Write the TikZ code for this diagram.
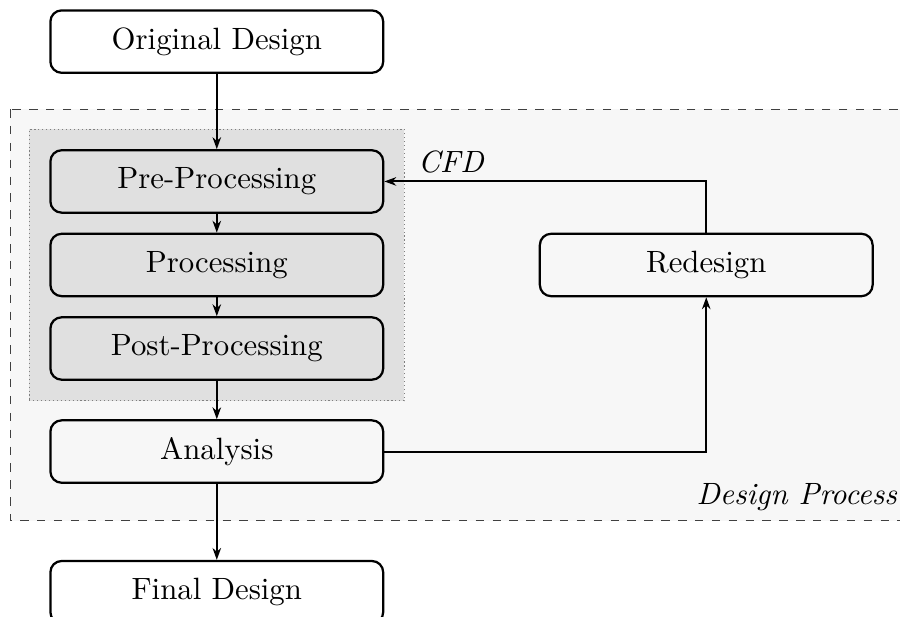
\documentclass[tikz,border=0pt,11pt]{standalone}
\usetikzlibrary{positioning,arrows.meta,fit,calc,backgrounds}

\begin{document}
\begin{tikzpicture}[
      node distance=0.236cm and 1.93cm,
      box/.style={draw, thick, rounded corners=4pt, align=center,
                  minimum width=4.16cm, minimum height=0.78cm},
      cfdbox/.style={box, fill=black!12},
      arr/.style={-{Stealth[length=4.2pt, width=3pt, inset=1.3pt]}, line width=0.7pt}
  ]
  \useasboundingbox (0,0) rectangle (11.25,-7.71);

  %% ---- main column (top to bottom)
  \node[box]                          (orig)     at (2.71,-0.52) {Original Design};
  \node[cfdbox, below=0.94cm of orig] (pre)      {Pre-Processing};
  \node[cfdbox, below=of pre]         (proc)     {Processing};
  \node[cfdbox, below=of proc]        (post)     {Post-Processing};
  \node[box,    below=0.48cm of post] (analysis) {Analysis};
  \node[box,    below=0.95cm of analysis] (final) {Final Design};

  %% ---- loop back on the right
  \node[box, right=of proc]           (redesign) {Redesign};

  %% ---- frames behind the boxes
  \begin{scope}[on background layer]
    \draw[dashed, black!75, fill=black!3]
      ($(pre.north west)+(-0.49,0.5)$) rectangle (11.6,-6.51);
    \node[fit=(pre)(proc)(post), inner sep=0.25cm, draw=black!50, densely dotted,
          fill=black!12] (cfd) {};
  \end{scope}
  \node[anchor=base west, inner sep=0, font=\itshape] (cfdlabel) at (5.22,-2.16) {CFD};
  \node[anchor=base east, inner sep=0, font=\itshape] (dplabel)  at (11.22,-6.31) {Design Process};

  %% ---- arrows
  \draw[arr] (orig)     -- (pre);
  \draw[arr] (pre)      -- (proc);
  \draw[arr] (proc)     -- (post);
  \draw[arr] (post)     -- (analysis);
  \draw[arr] (analysis) -- (final);
  \draw[arr] (analysis.east) -| (redesign.south);
  \draw[arr] (redesign.north) |- (pre.east);
\end{tikzpicture}
\end{document}
